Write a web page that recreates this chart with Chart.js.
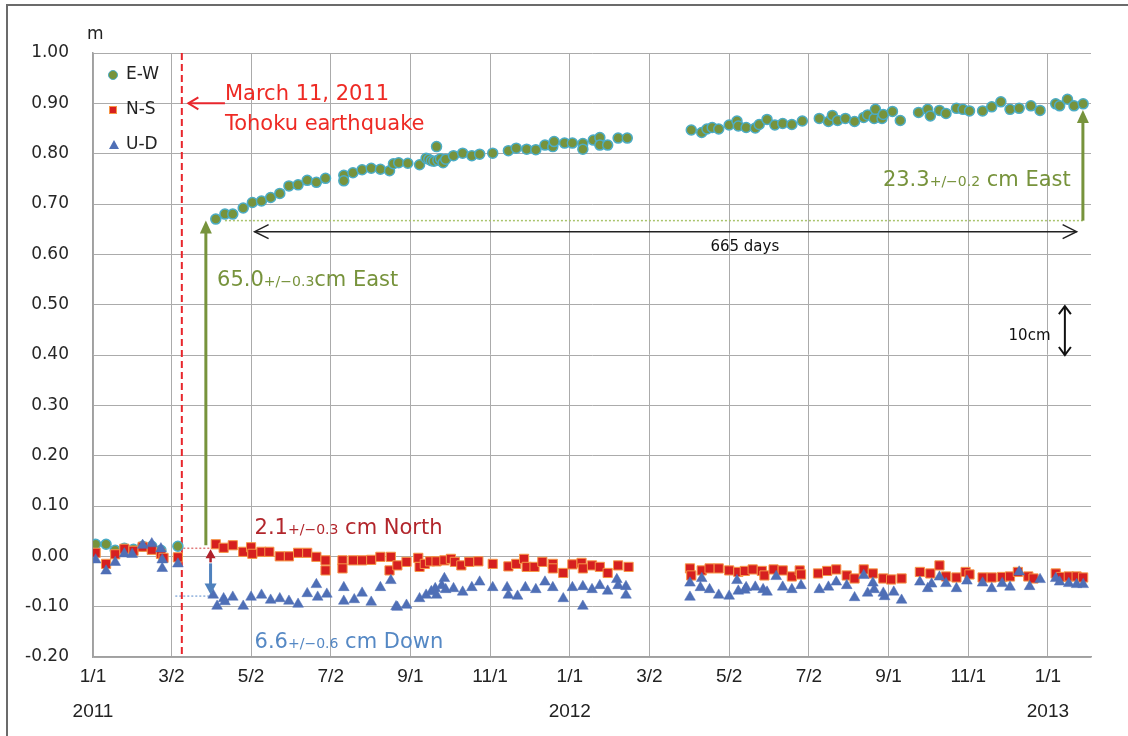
<!DOCTYPE html>
<html>
<head>
<meta charset="utf-8">
<script src="https://cdn.jsdelivr.net/npm/chart.js@4.4.1/dist/chart.umd.min.js"></script>
<style>
  body { margin: 0; background: #fff; }
  #wrap { width: 1128px; height: 736px; }
</style>
</head>
<body>
<div id="wrap"><canvas id="myChart" width="1128" height="736"></canvas></div>
<script>
// days counted from 1 Jan 2011, values in metres
const ewDays = [2, 10, 17, 24, 31, 38, 45, 52, 65,
  94, 101, 107, 115, 122, 129, 136, 143, 150, 157, 164, 171, 178, 192, 192, 199, 206, 213, 220,
  227, 230, 234, 241, 250, 255, 257, 259, 261, 263, 264, 266, 268, 270, 276, 283, 290, 296, 306,
  318, 324, 332, 339, 346, 352, 353, 361, 367, 375, 375, 383, 388, 388, 394, 402, 409,
  458, 466, 470, 474, 479, 487, 493, 494, 500, 507, 510, 516, 522, 528, 535, 543, 556, 563,
  566, 570, 576, 583, 590, 593, 598, 599, 604, 605, 612, 618, 632, 639, 641, 648, 653, 661,
  666, 671, 681, 688, 695, 702, 709, 718, 725, 737, 740, 746, 751, 758];
const ewValues = [0.024, 0.024, 0.012, 0.016, 0.014, 0.020, 0.020, 0.012, 0.020,
  0.670, 0.680, 0.680, 0.692, 0.703, 0.706, 0.713, 0.721, 0.736, 0.738, 0.747, 0.743, 0.751, 0.757, 0.746, 0.762, 0.768, 0.771, 0.769,
  0.766, 0.780, 0.782, 0.781, 0.778, 0.791, 0.789, 0.786, 0.785, 0.814, 0.787, 0.790, 0.782, 0.789, 0.796, 0.801, 0.796, 0.799, 0.801,
  0.806, 0.811, 0.809, 0.808, 0.817, 0.814, 0.824, 0.821, 0.821, 0.820, 0.809, 0.827, 0.832, 0.817, 0.817, 0.831, 0.831,
  0.847, 0.842, 0.849, 0.852, 0.849, 0.857, 0.865, 0.855, 0.852, 0.851, 0.858, 0.868, 0.857, 0.860, 0.858, 0.865, 0.870, 0.864,
  0.876, 0.866, 0.870, 0.864, 0.872, 0.877, 0.870, 0.888, 0.870, 0.878, 0.884, 0.866, 0.882, 0.888, 0.875, 0.886, 0.880, 0.890,
  0.888, 0.885, 0.885, 0.893, 0.903, 0.888, 0.890, 0.895, 0.886, 0.899, 0.895, 0.908, 0.895, 0.899];

const nsDays = [2, 10, 17, 24, 31, 38, 45, 52, 54, 65,
  94, 100, 107, 115, 121, 122, 129, 135, 143, 150, 157, 164, 171, 178, 178, 191, 191, 199, 206, 213, 220,
  227, 228, 233, 240, 249, 250, 254, 258, 263, 269, 274, 277, 282, 288, 295, 306, 318, 324, 330, 332,
  338, 344, 352, 352, 360, 367, 374, 375, 382, 388, 394, 402, 410,
  457, 458, 466, 472, 479, 487, 494, 499, 505, 512, 514, 521, 528, 535, 541, 542, 555, 562, 569, 577,
  583, 590, 597, 605, 611, 619, 633, 641, 648, 653, 661, 668, 671, 681, 688, 696, 702, 708, 716, 720,
  737, 741, 747, 753, 758];
const nsValues = [0.007, -0.015, 0.004, 0.015, 0.011, 0.019, 0.013, 0.005, -0.003, -0.002,
  0.024, 0.017, 0.022, 0.009, 0.018, 0.005, 0.009, 0.009, 0.000, 0.000, 0.007, 0.007, -0.001, -0.008, -0.028, -0.008, -0.024, -0.008, -0.008, -0.007, -0.001,
  -0.028, -0.001, -0.018, -0.011, -0.003, -0.021, -0.015, -0.010, -0.010, -0.008, -0.005, -0.011, -0.018, -0.011, -0.010, -0.015, -0.020, -0.015, -0.005, -0.021,
  -0.021, -0.011, -0.015, -0.024, -0.033, -0.016, -0.013, -0.024, -0.018, -0.021, -0.033, -0.018, -0.021,
  -0.024, -0.038, -0.028, -0.024, -0.024, -0.028, -0.031, -0.029, -0.026, -0.029, -0.038, -0.026, -0.028, -0.040, -0.028, -0.036, -0.034, -0.029, -0.026, -0.038,
  -0.044, -0.026, -0.034, -0.044, -0.046, -0.044, -0.031, -0.034, -0.018, -0.040, -0.042, -0.031, -0.036, -0.042, -0.042, -0.041, -0.040, -0.031, -0.040, -0.044,
  -0.034, -0.041, -0.040, -0.040, -0.042];

const udDays = [2, 10, 17, 24, 30, 38, 45, 52, 53, 53, 65,
  92, 95, 100, 101, 107, 115, 121, 129, 136, 143, 150, 157, 164, 171, 172, 179, 192, 192, 200, 206, 213, 220,
  228, 232, 233, 240, 250, 255, 259, 262, 263, 267, 269, 270, 276, 283, 290, 296, 306, 317, 318, 325,
  331, 339, 346, 352, 360, 367, 375, 375, 382, 388, 394, 401, 402, 408, 408,
  457, 457, 465, 466, 472, 479, 487, 493, 494, 499, 500, 507, 513, 516, 523, 528, 535, 542, 556, 563,
  569, 577, 583, 590, 593, 597, 598, 605, 606, 613, 619, 633, 639, 642, 648, 653, 661, 669, 681, 688,
  696, 702, 709, 717, 725, 737, 740, 747, 753, 758];
const udValues = [-0.007, -0.029, -0.012, 0.005, 0.004, 0.022, 0.025, 0.015, -0.007, -0.024, -0.015,
  -0.077, -0.099, -0.084, -0.090, -0.081, -0.099, -0.081, -0.077, -0.087, -0.084, -0.089, -0.095, -0.074, -0.056, -0.081, -0.075, -0.062, -0.089, -0.086, -0.073, -0.091, -0.062,
  -0.048, -0.100, -0.101, -0.097, -0.084, -0.077, -0.070, -0.064, -0.077, -0.058, -0.044, -0.066, -0.064, -0.071, -0.062, -0.051, -0.062, -0.062, -0.077, -0.079,
  -0.062, -0.066, -0.051, -0.062, -0.084, -0.062, -0.099, -0.060, -0.066, -0.058, -0.069, -0.046, -0.058, -0.060, -0.077,
  -0.053, -0.081, -0.062, -0.044, -0.066, -0.077, -0.079, -0.048, -0.069, -0.067, -0.062, -0.061, -0.066, -0.071, -0.040, -0.061, -0.066, -0.058, -0.066, -0.061,
  -0.051, -0.058, -0.082, -0.038, -0.073, -0.053, -0.066, -0.073, -0.080, -0.071, -0.087, -0.051, -0.064, -0.055, -0.041, -0.054, -0.064, -0.049, -0.053, -0.064,
  -0.054, -0.061, -0.031, -0.060, -0.046, -0.044, -0.051, -0.054, -0.056, -0.056];

const tickDays = [0, 60, 121, 182, 243, 304, 365, 426, 487, 548, 609, 670, 731];
const tickLabels = ['1/1', '3/2', '5/2', '7/2', '9/1', '11/1', '1/1', '3/2', '5/2', '7/2', '9/1', '11/1', '1/1'];
const yearLabels = ['2011', '', '', '', '', '', '2012', '', '', '', '', '', '2013'];
const seriesNames = ['E-W', 'N-S', 'U-D'];
const quakeDay = 68;

const toPoints = (days, vals) => days.map((d, i) => ({ x: d, y: vals[i] }));

const ewFill = '#77933c', ewEdge = '#4bacc6';
const nsFill = '#d61f1f', nsEdge = '#f79646';
const udFill = '#4f6fb6';

function arrowHead(ctx, x1, y1, x2, y2, len, half, filled) {
  const a = Math.atan2(y2 - y1, x2 - x1);
  const bx = x2 - len * Math.cos(a), by = y2 - len * Math.sin(a);
  const px = -Math.sin(a) * half, py = Math.cos(a) * half;
  ctx.beginPath();
  ctx.moveTo(bx + px, by + py);
  ctx.lineTo(x2, y2);
  ctx.lineTo(bx - px, by - py);
  if (filled) { ctx.closePath(); ctx.fill(); } else { ctx.stroke(); }
}

function arrow(ctx, x1, y1, x2, y2, opt) {
  ctx.save();
  ctx.strokeStyle = opt.color; ctx.fillStyle = opt.color; ctx.lineWidth = opt.width;
  ctx.setLineDash([]);
  const a = Math.atan2(y2 - y1, x2 - x1);
  const cut = opt.filled ? opt.len * 0.8 : 0;
  ctx.beginPath();
  ctx.moveTo(x1 + (opt.both ? cut * Math.cos(a) : 0), y1 + (opt.both ? cut * Math.sin(a) : 0));
  ctx.lineTo(x2 - cut * Math.cos(a), y2 - cut * Math.sin(a));
  ctx.stroke();
  arrowHead(ctx, x1, y1, x2, y2, opt.len, opt.half, opt.filled);
  if (opt.both) arrowHead(ctx, x2, y2, x1, y1, opt.len, opt.half, opt.filled);
  ctx.restore();
}

function dotted(ctx, x1, x2, yy, color) {
  ctx.save();
  ctx.strokeStyle = color; ctx.lineWidth = 1.5; ctx.setLineDash([2, 2]);
  ctx.beginPath(); ctx.moveTo(x1, yy); ctx.lineTo(x2, yy); ctx.stroke();
  ctx.restore();
}

// text made of pieces with different sizes, sharing one baseline
function richText(ctx, parts, x, yMid, color, align) {
  ctx.save();
  ctx.fillStyle = color; ctx.textBaseline = 'alphabetic'; ctx.textAlign = 'left';
  let total = 0;
  parts.forEach(p => { ctx.font = p[1] + 'px "DejaVu Sans"'; total += ctx.measureText(p[0]).width; });
  let cx = align === 'right' ? x - total : align === 'center' ? x - total / 2 : x;
  const big = Math.max(...parts.map(p => p[1]));
  const base = yMid + big * 0.36;
  parts.forEach(p => {
    ctx.font = p[1] + 'px "DejaVu Sans"';
    ctx.fillText(p[0], cx, base);
    cx += ctx.measureText(p[0]).width;
  });
  ctx.restore();
}

const notes = {
  id: 'notes',
  beforeDraw(chart) {
    const ctx = chart.ctx;
    ctx.save();
    ctx.fillStyle = '#fff';
    ctx.fillRect(0, 0, chart.width, chart.height);
    // frame of the pasted figure: only its left and top edges fall inside the picture
    ctx.strokeStyle = '#6b6b6b'; ctx.lineWidth = 2;
    ctx.strokeRect(7, 5, chart.width + 20, chart.height + 20);
    ctx.restore();
  },
  beforeDatasetsDraw(chart) {
    const { ctx, scales: { x, y }, chartArea: a } = chart;
    dotted(ctx, x.getPixelForValue(101), x.getPixelForValue(759), y.getPixelForValue(0.667), '#a9c46c');
    dotted(ctx, x.getPixelForValue(63), x.getPixelForValue(89), y.getPixelForValue(0.016), '#e07a7a');
    dotted(ctx, x.getPixelForValue(63), x.getPixelForValue(89), y.getPixelForValue(-0.079), '#8fb0dc');
    ctx.save();
    ctx.strokeStyle = '#e8262c'; ctx.lineWidth = 2; ctx.setLineDash([7, 4]);
    const qx = x.getPixelForValue(quakeDay);
    ctx.beginPath(); ctx.moveTo(qx, a.top); ctx.lineTo(qx, a.bottom); ctx.stroke();
    ctx.restore();
  },
  afterDatasetsDraw(chart) {
    const { ctx, scales: { x, y }, chartArea: a } = chart;
    const X = v => x.getPixelForValue(v), Y = v => y.getPixelForValue(v);

    // legend
    ctx.save();
    const lx = a.left + 20, ly = [a.top + 22, a.top + 57, a.top + 92];
    ctx.fillStyle = ewFill; ctx.strokeStyle = ewEdge; ctx.lineWidth = 1;
    ctx.beginPath(); ctx.arc(lx, ly[0], 4.5, 0, Math.PI * 2); ctx.fill(); ctx.stroke();
    ctx.fillStyle = nsFill; ctx.strokeStyle = nsEdge;
    ctx.fillRect(lx - 3.5, ly[1] - 3.5, 7, 7); ctx.strokeRect(lx - 3.5, ly[1] - 3.5, 7, 7);
    ctx.fillStyle = udFill;
    ctx.beginPath(); ctx.moveTo(lx + 1, ly[2] - 5); ctx.lineTo(lx + 6, ly[2] + 4); ctx.lineTo(lx - 4, ly[2] + 4); ctx.closePath(); ctx.fill();
    ctx.fillStyle = '#222'; ctx.font = '17px "DejaVu Sans"'; ctx.textBaseline = 'middle'; ctx.textAlign = 'left';
    seriesNames.forEach((n, i) => ctx.fillText(n, lx + 13, ly[i]));
    // unit
    ctx.fillText('m', a.left - 6, a.top - 18);
    ctx.restore();

    // earthquake label
    arrow(ctx, X(101), Y(0.90), X(73), Y(0.90), { color: '#e8262c', width: 2, len: 10, half: 6, filled: false });
    richText(ctx, [['March 11, 2011', 21]], X(101), Y(0.921), '#ee2a24', 'left');
    richText(ctx, [['Tohoku earthquake', 21]], X(101), Y(0.863), '#ee2a24', 'left');

    // east jump and later drift
    arrow(ctx, X(86.4), Y(0.022), X(86.4), Y(0.667), { color: '#77933c', width: 3, len: 13, half: 6, filled: true });
    richText(ctx, [['65.0', 21], ['+/\u22120.3', 14], ['cm East', 21]], X(95), Y(0.552), '#77933c', 'left');
    arrow(ctx, X(757.8), Y(0.667), X(757.8), Y(0.887), { color: '#77933c', width: 3, len: 13, half: 6, filled: true });
    richText(ctx, [['23.3', 21], ['+/\u22120.2', 14], [' cm East', 21]], X(748.5), Y(0.750), '#77933c', 'right');

    // 665 days span
    arrow(ctx, X(123.7), Y(0.645), X(753), Y(0.645), { color: '#222', width: 1.5, len: 14, half: 7, filled: false, both: true });
    richText(ctx, [['665 days', 15]], X(499), Y(0.617), '#111', 'center');

    // 10 cm scale
    arrow(ctx, X(744), Y(0.40), X(744), Y(0.497), { color: '#111', width: 2, len: 8, half: 6, filled: false, both: true });
    richText(ctx, [['10cm', 15]], X(733), Y(0.44), '#111', 'right');

    // north and down offsets
    arrow(ctx, X(90), Y(-0.012), X(90), Y(0.014), { color: '#b0202a', width: 2.5, len: 9, half: 5, filled: true });
    arrow(ctx, X(90), Y(-0.014), X(90), Y(-0.076), { color: '#4f81bd', width: 3, len: 11, half: 6, filled: true });
    richText(ctx, [['2.1', 21], ['+/\u22120.3', 14], [' cm North', 21]], X(123.7), Y(0.060), '#b2262c', 'left');
    richText(ctx, [['6.6', 21], ['+/\u22120.6', 14], [' cm Down', 21]], X(123.7), Y(-0.167), '#5588c4', 'left');
  }
};

const ctx = document.getElementById('myChart');

const dataChart = new Chart(ctx, {
  type: 'scatter',
  data: {
    datasets: [
      { label: seriesNames[0], data: toPoints(ewDays, ewValues), pointStyle: 'circle', pointRadius: 5,
        backgroundColor: ewFill, borderColor: ewEdge, borderWidth: 1.5, order: 2 },
      { label: seriesNames[1], data: toPoints(nsDays, nsValues), pointStyle: 'rect', pointRadius: 6.5,
        backgroundColor: nsFill, borderColor: nsEdge, borderWidth: 1, order: 1 },
      { label: seriesNames[2], data: toPoints(udDays, udValues), pointStyle: 'triangle', pointRadius: 6.2,
        backgroundColor: udFill, borderColor: udFill, borderWidth: 0.5, order: 0 }
    ]
  },
  options: {
    responsive: false,
    animation: false,
    layout: { padding: { top: 53, right: 37, left: 0, bottom: 0 } },
    plugins: { legend: { display: false }, tooltip: { enabled: false } },
    scales: {
      x: {
        type: 'linear', min: 0, max: 764,
        afterBuildTicks: s => { s.ticks = tickDays.map(v => ({ value: v })); },
        afterFit: s => { s.height = 79; },
        ticks: {
          autoSkip: false, maxRotation: 0, padding: 2, color: '#222',
          font: { family: 'Liberation Sans', size: 19, lineHeight: 1.85 },
          callback: (v, i) => yearLabels[i] ? [tickLabels[i], yearLabels[i]] : tickLabels[i]
        },
        grid: { color: '#ababab', lineWidth: 1, drawTicks: false },
        border: { color: '#a0a0a0', width: 1.5 }
      },
      y: {
        min: -0.2, max: 1.0,
        afterFit: s => { s.width = 93; },
        ticks: {
          stepSize: 0.1, padding: 24, color: '#262626',
          font: { family: 'DejaVu Sans', size: 17 },
          callback: v => Math.abs(v) < 1e-9 ? '0.00' : v.toFixed(2)
        },
        grid: { color: '#ababab', lineWidth: 1, drawTicks: false },
        border: { color: '#a0a0a0', width: 1.5 }
      }
    }
  },
  plugins: [notes]
});
</script>
</body>
</html>
